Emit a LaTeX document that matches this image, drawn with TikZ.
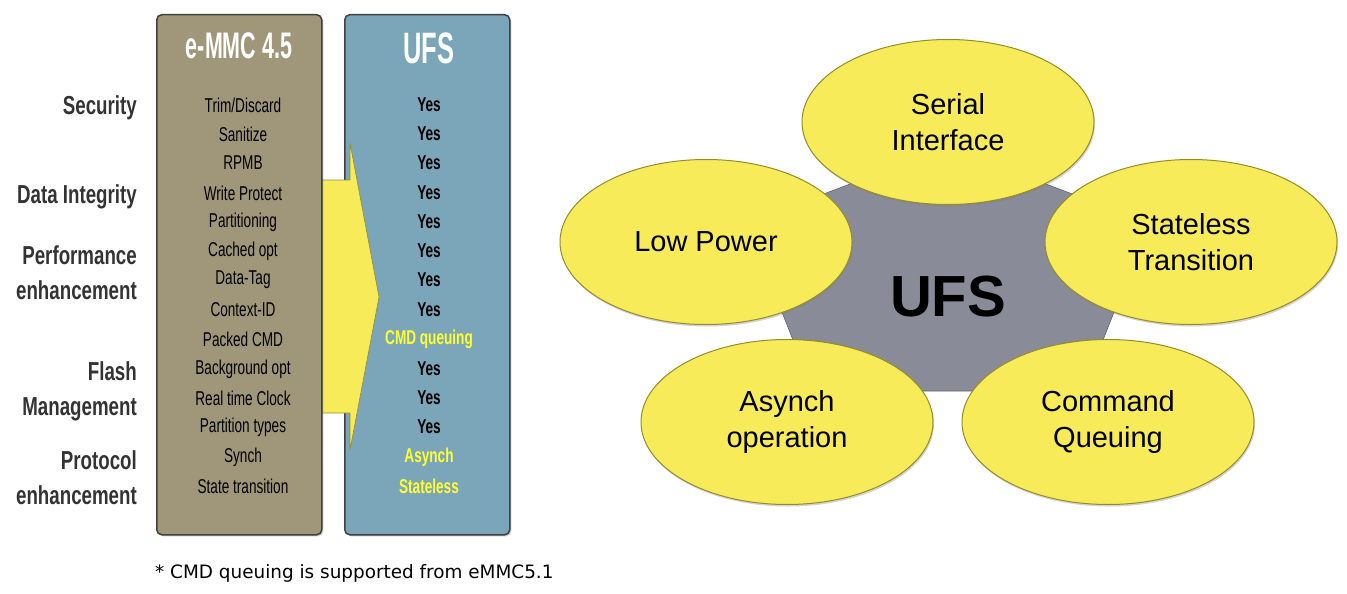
\documentclass[tikz,border=0pt]{standalone}
\usepackage{fontspec}
\setmainfont{Liberation Sans}
\newfontfamily\narrowfont[FakeStretch=0.68]{Liberation Sans}
\newfontfamily\headfont[FakeStretch=0.72]{Liberation Sans}
\newfontfamily\titlefont[FakeStretch=0.58]{Liberation Sans}
\newfontfamily\notefont{DejaVu Sans}
\usetikzlibrary{shapes.geometric,shadows}
\definecolor{emmcbrown}{RGB}{160,151,122}
\definecolor{ufsblue}{RGB}{123,165,185}
\definecolor{petalfill}{RGB}{247,235,90}
\definecolor{petaledge}{RGB}{150,140,40}
\definecolor{coregray}{RGB}{137,139,152}
\definecolor{hiyellow}{RGB}{255,255,51}
\definecolor{labelgray}{RGB}{51,51,51}
\begin{document}
\begin{tikzpicture}[x=1pt,y=-1pt,
  column/.style={draw=black!75,line width=1.5pt,rounded corners=5pt,inner sep=0pt,
    minimum width=165pt,minimum height=520pt,anchor=north west,
    drop shadow={shadow xshift=1.5pt,shadow yshift=-1.5pt,opacity=0.4}},
  coltitle/.style={inner sep=0pt,text=white,font=\titlefont\bfseries\fontsize{37}{40}\selectfont},
  item/.style={inner sep=0pt,font=\narrowfont\fontsize{20}{22}\selectfont},
  yes/.style={inner sep=0pt,font=\narrowfont\bfseries\fontsize{20}{22}\selectfont},
  newitem/.style={yes,text=hiyellow},
  group/.style={inner sep=0pt,anchor=east,align=right,text=labelgray,
    font=\headfont\bfseries\fontsize{26}{35}\selectfont},
  petal/.style={ellipse,draw=petaledge,line width=1pt,fill=petalfill,inner sep=0pt,
    minimum width=292pt,minimum height=165pt,align=center,
    font=\fontsize{29}{36}\selectfont,
    drop shadow={shadow xshift=1pt,shadow yshift=-2pt,opacity=0.35}}]
\useasboundingbox (0,0) rectangle (1347,594);

% comparison table
\node[column,fill=ufsblue] (ufs) at (344,14) {};
\fill[petalfill,draw=petaledge,line width=0.6pt] (322,180) -- (350,180) -- (350,143) -- (379,297)
  -- (350,450) -- (350,413) -- (322,413) -- cycle;
\node[column,fill=emmcbrown] (emmc) at (156,14) {};
\node[coltitle] (emmct) at (239,46) {e-MMC 4.5};
\node[coltitle,font=\titlefont\bfseries\fontsize{44}{46}\selectfont] (ufst) at (429,48) {UFS};

\node[group] (g1) at (137,108) {Security};
\node[group] (g2) at (137,197) {Data Integrity};
\node[group] (g3) at (137,273) {Performance\\enhancement};
\node[group] (g4) at (137,391) {Flash\\Management};
\node[group] (g5) at (137,478) {Protocol\\enhancement};

\node[item] (e1) at (243,105) {Trim/Discard};
\node[item] (e2) at (243,134) {Sanitize};
\node[item] (e3) at (243,163) {RPMB};
\node[item] (e4) at (243,193) {Write Protect};
\node[item] (e5) at (243,222) {Partitioning};
\node[item] (e6) at (243,251) {Cached opt};
\node[item] (e7) at (243,280) {Data-Tag};
\node[item] (e8) at (243,310) {Context-ID};
\node[item] (e9) at (243,339) {Packed CMD};
\node[item] (e10) at (243,369) {Background opt};
\node[item] (e11) at (243,398) {Real time Clock};
\node[item] (e12) at (243,427) {Partition types};
\node[item] (e13) at (243,457) {Synch};
\node[item] (e14) at (243,486) {State transition};

\node[yes] (u1) at (429,105) {Yes};
\node[yes] (u2) at (429,134) {Yes};
\node[yes] (u3) at (429,163) {Yes};
\node[yes] (u4) at (429,193) {Yes};
\node[yes] (u5) at (429,222) {Yes};
\node[yes] (u6) at (429,251) {Yes};
\node[yes] (u7) at (429,280) {Yes};
\node[yes] (u8) at (429,310) {Yes};
\node[newitem] (u9) at (429,339) {CMD queuing};
\node[yes] (u10) at (429,369) {Yes};
\node[yes] (u11) at (429,398) {Yes};
\node[yes] (u12) at (429,427) {Yes};
\node[newitem] (u13) at (429,457) {Asynch};
\node[newitem] (u14) at (429,486) {Stateless};

\node[anchor=west,inner sep=0pt,font=\notefont\fontsize{18.4}{20}\selectfont] (note) at (155,573)
  {* CMD queuing is supported from eMMC5.1};

% UFS features
\filldraw[fill=coregray,draw=coregray!70!black,line width=0.6pt] (948,147) -- (747,223) -- (813,391)
  -- (1083,391) -- (1149,223) -- cycle;
\node[inner sep=0pt,font=\bfseries\fontsize{58}{60}\selectfont] (core) at (948,297) {UFS};
\node[petal] (serial) at (948,122) {Serial\\Interface};
\node[petal] (power) at (706,242) {Low Power};
\node[petal] (state) at (1191,242) {Stateless\\Transition};
\node[petal] (async) at (787,422) {Asynch\\operation};
\node[petal] (queue) at (1108,422) {Command\\Queuing};
\end{tikzpicture}
\end{document}
